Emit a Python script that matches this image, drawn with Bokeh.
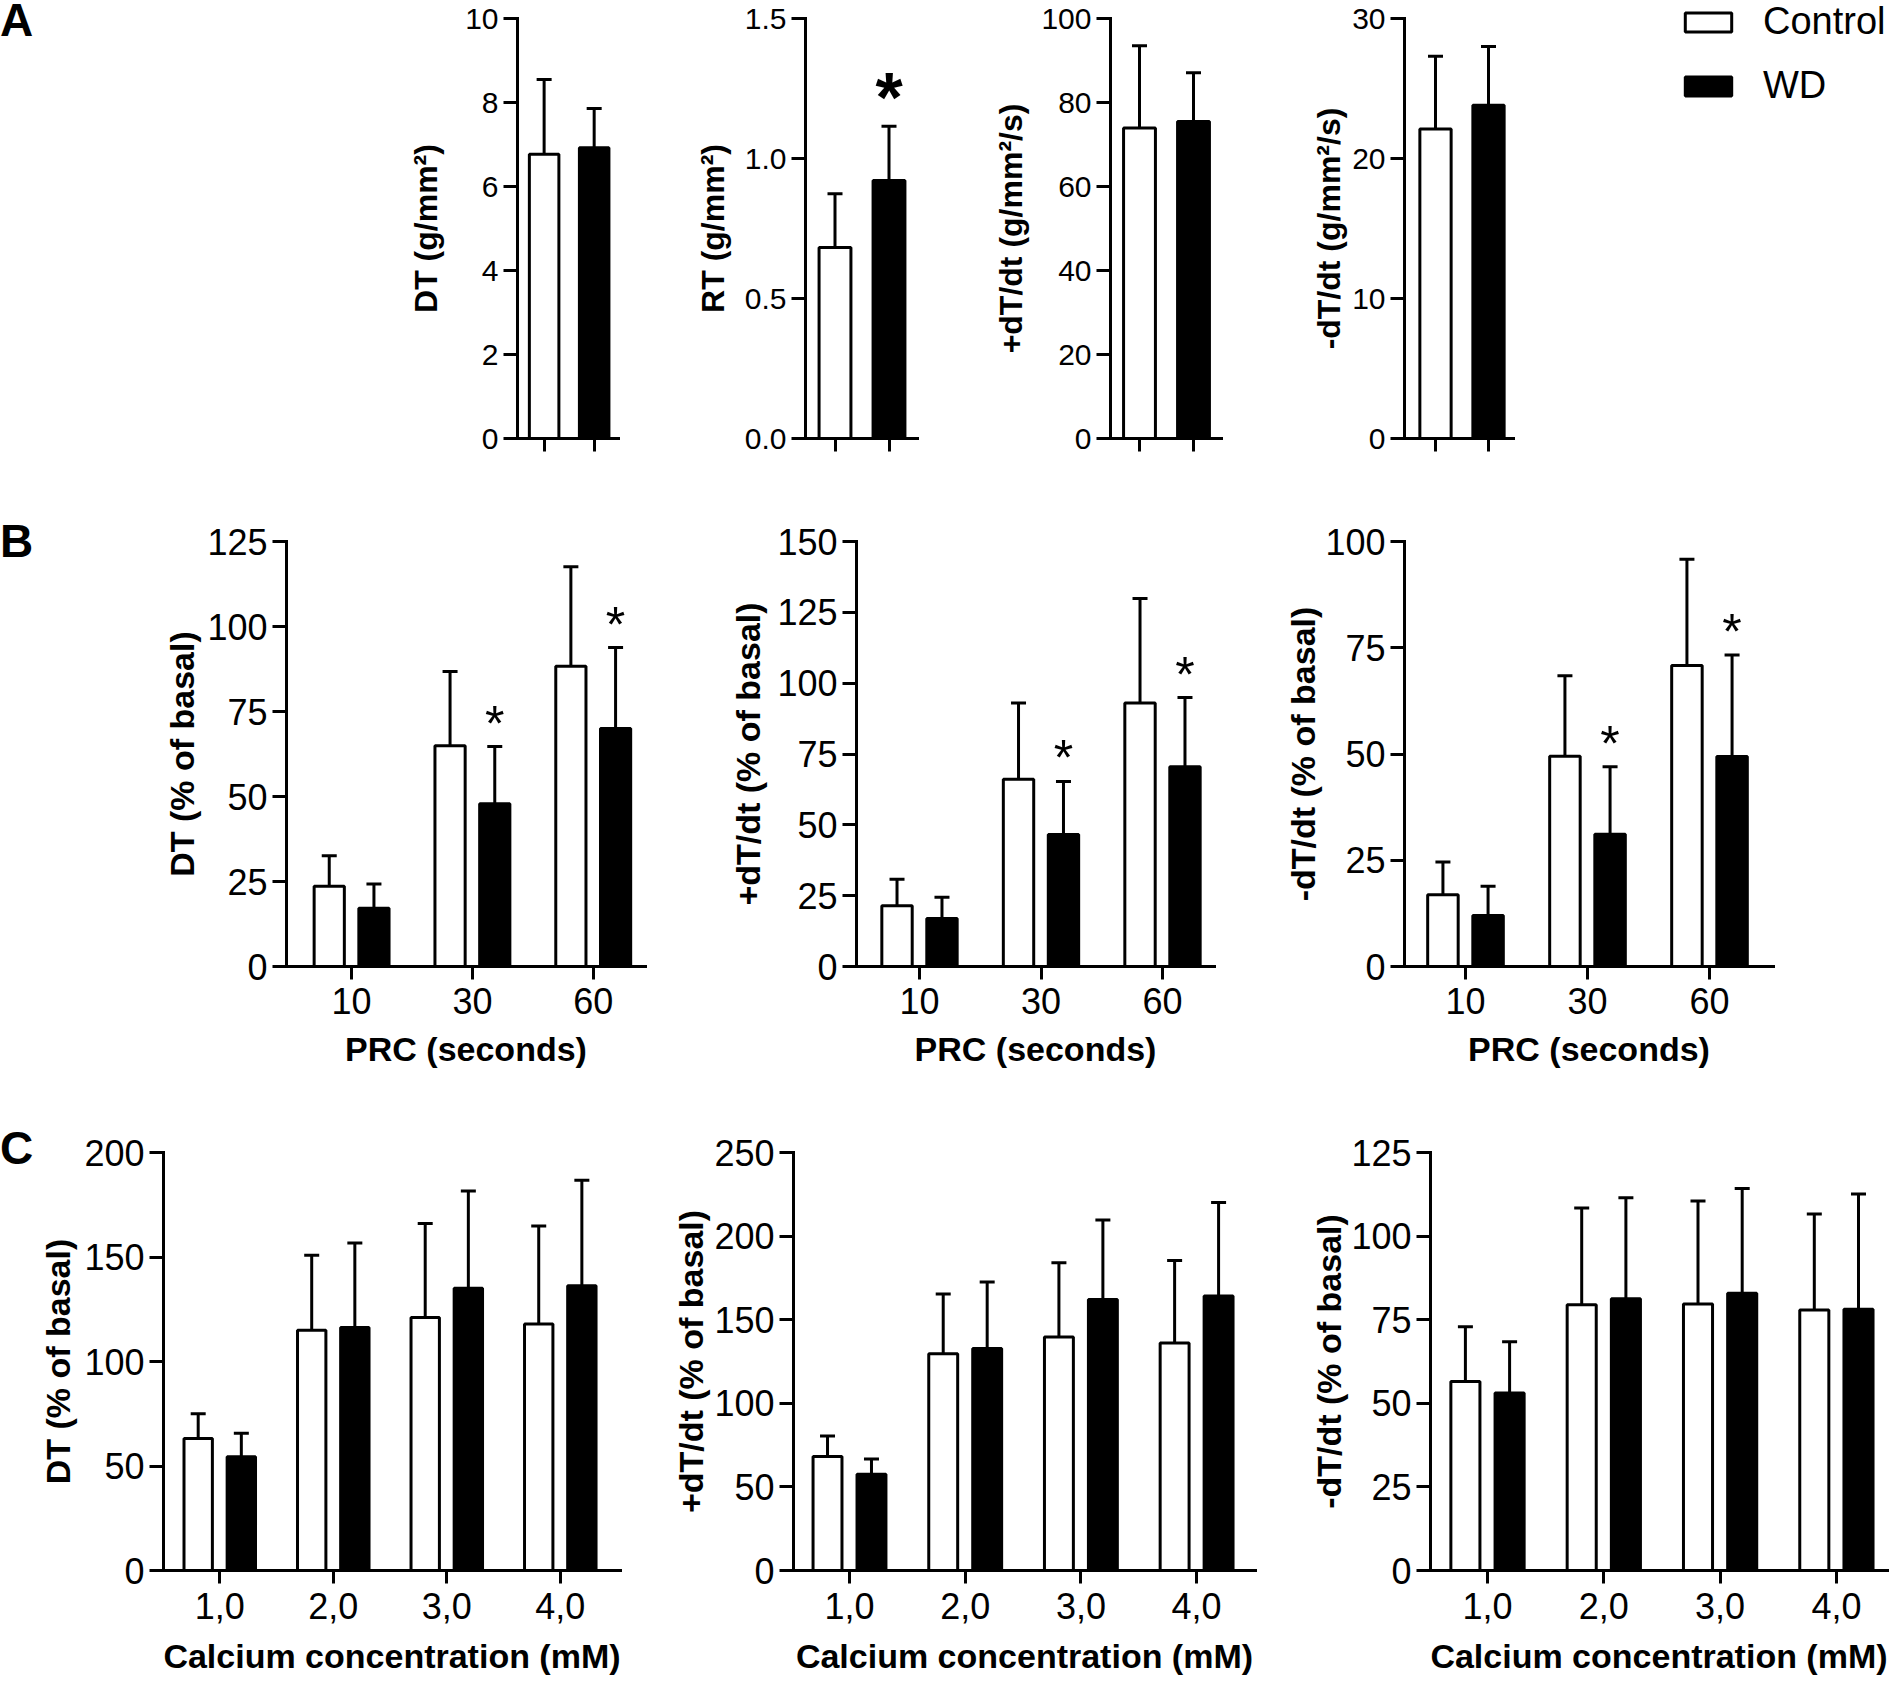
from bokeh.plotting import figure
from bokeh.models import (Range1d, FixedTicker, Whisker, TeeHead, ColumnDataSource,
                          Legend, LegendItem, PrintfTickFormatter, Div)
from bokeh.layouts import row, column
from bokeh.core.properties import value
from bokeh.embed import file_html
from bokeh.resources import INLINE

FONT = "Liberation Sans"
NARROW = "Liberation Sans Narrow, Liberation Sans"

# ---------------- data ----------------
series_names = ["Control", "WD"]
panel_letters = ["A", "B", "C"]

# Panel A: basal mechanics (bar = mean, upper = top of SD bar)
a_ylabels = ["DT (g/mm²)", "RT (g/mm²)", "+dT/dt (g/mm²/s)", "-dT/dt (g/mm²/s)"]
a_ctrl = [6.77, 0.682, 73.9, 22.1]
a_ctrl_upper = [8.55, 0.874, 93.5, 27.3]
a_wd = [6.92, 0.921, 75.5, 23.8]
a_wd_upper = [7.86, 1.115, 87.1, 28.0]
a_ymax = [10, 1.5, 100, 30]
a_ystep = [2, 0.5, 20, 10]
a_wd_sig = [False, True, False, False]

# Panel B: post-rest contraction
prc_labels = ["10", "30", "60"]
b_xlabel = "PRC (seconds)"
b_ylabels = ["DT (% of basal)", "+dT/dt (% of basal)", "-dT/dt (% of basal)"]
b1_ctrl = [23.6, 64.9, 88.3]
b1_ctrl_upper = [32.6, 86.8, 117.6]
b1_wd = [17.1, 47.9, 70.0]
b1_wd_upper = [24.3, 64.7, 93.8]
b2_ctrl = [21.4, 66.1, 93.0]
b2_ctrl_upper = [30.8, 93.0, 129.9]
b2_wd = [16.9, 46.6, 70.5]
b2_wd_upper = [24.4, 65.3, 94.9]
b3_ctrl = [16.9, 49.5, 70.8]
b3_ctrl_upper = [24.6, 68.4, 95.8]
b3_wd = [12.0, 31.1, 49.4]
b3_wd_upper = [18.9, 47.0, 73.3]
b_wd_sig = [False, True, True]
b_ymax = [125, 150, 100]

# Panel C: extracellular calcium
ca_labels = ["1,0", "2,0", "3,0", "4,0"]
c_xlabel = "Calcium concentration (mM)"
c_ylabels = ["DT (% of basal)", "+dT/dt (% of basal)", "-dT/dt (% of basal)"]
c1_ctrl = [63.2, 114.9, 121.0, 117.9]
c1_ctrl_upper = [75.0, 150.8, 166.0, 164.8]
c1_wd = [54.4, 116.3, 135.0, 136.3]
c1_wd_upper = [65.7, 156.7, 181.6, 186.7]
c2_ctrl = [68.2, 129.7, 139.6, 136.0]
c2_ctrl_upper = [80.5, 165.3, 184.1, 185.4]
c2_wd = [57.6, 132.8, 162.1, 164.2]
c2_wd_upper = [66.7, 172.5, 209.7, 220.1]
c3_ctrl = [56.5, 79.5, 79.7, 77.9]
c3_ctrl_upper = [72.9, 108.4, 110.5, 106.6]
c3_wd = [53.1, 81.3, 82.9, 78.1]
c3_wd_upper = [68.4, 111.5, 114.2, 112.6]
c_wd_sig = [False, False, False, False]
c_ymax = [200, 250, 125]
c_ystep = [50, 50, 25]

# ---------------- layout (pixels) ----------------
ROW_A = (0, 480)
ROW_B = (480, 1110)
ROW_C = (1110, 1682)
# fig_x0, fig_x1, frame_left, frame_right, first_tick_px, px_per_unit
A_GEOM = [(405, 660, 508, 618, 537, 54.5), (660, 960, 805, 917, 834.5, 54.0),
          (960, 1260, 1110, 1221, 1139, 54.0), (1260, 1679, 1404, 1513, 1435, 53.0)]
A_FRAME_Y = (18, 438)
B_GEOM = [(160, 690, 281, 645, 347, 122.5), (690, 1250, 856, 1214, 919, 121.5),
          (1250, 1898, 1404, 1773, 1465, 122.0)]
B_FRAME_Y = (541, 966)
C_GEOM = [(36, 650, 157, 620, 214, 115.0), (650, 1290, 793, 1255, 849, 115.7),
          (1290, 1898, 1430, 1887, 1487, 116.3)]
C_FRAME_Y = (1152, 1570)


def style_axis(ax, tick_font, tick_size, label_size, label_standoff, tick_out, label_gap):
    ax.axis_line_width = 3
    ax.axis_line_color = "black"
    ax.axis_line_cap = "square"
    ax.major_tick_line_width = 3
    ax.major_tick_line_color = "black"
    ax.major_tick_out = tick_out
    ax.major_tick_in = 0
    ax.minor_tick_line_color = None
    ax.major_label_text_font = tick_font
    ax.major_label_text_font_size = tick_size
    ax.major_label_text_color = "black"
    ax.major_label_standoff = label_gap
    ax.axis_label_text_font = FONT
    ax.axis_label_text_font_style = "bold"
    ax.axis_label_text_font_size = label_size
    ax.axis_label_text_color = "black"
    ax.axis_label_standoff = label_standoff


def make_panel(geom, rowy, framey, ymax, ystep, ylabel, ctrl_x, ctrl, ctrl_up, wd_x, wd, wd_up,
               sig, ticks, tick_labels, xlabel, barw, tick_font, tick_size, ylab_size,
               ylab_standoff, xlab_standoff, xtick_gap, xtick_out, star_size, star_style,
               star_gap, yfmt=None):
    fx0, fx1, fl, fr, t1, sp = geom
    ry0, ry1 = rowy
    ft, fb = framey
    xs = 1 - (t1 - fl) / sp
    xe = xs + (fr - fl) / sp
    p = figure(width=fx1 - fx0, height=ry1 - ry0, output_backend="svg", toolbar_location=None,
               tools="", title=None, min_border_left=fl - fx0, min_border_right=fx1 - fr,
               min_border_top=ft - ry0, min_border_bottom=ry1 - fb,
               x_range=Range1d(xs, xe), y_range=Range1d(0, ymax))
    p.xgrid.visible = False
    p.ygrid.visible = False
    p.outline_line_color = None
    p.background_fill_color = "white"
    p.border_fill_color = "white"

    src_c = ColumnDataSource(dict(x=ctrl_x, top=ctrl, up=ctrl_up))
    src_w = ColumnDataSource(dict(x=wd_x, top=wd, up=wd_up))
    for src, fill in ((src_c, "white"), (src_w, "black")):
        p.add_layout(Whisker(source=src, base="x", lower="top", upper="up",
                             line_width=3, line_color="black",
                             upper_head=TeeHead(size=15, line_width=3, line_color="black"),
                             lower_head=None, level="glyph"))
        p.vbar(x="x", top="top", bottom=0, width=barw, source=src, fill_color=fill,
               line_color="black", line_width=3)

    sx = [x for x, s in zip(wd_x, sig) if s]
    sy = [u for u, s in zip(wd_up, sig) if s]
    if sx:
        p.text(x=sx, y=sy, text=["*"] * len(sx), text_font=value(FONT),
               text_font_size=f"{star_size}px", text_font_style=star_style,
               text_align="center", text_baseline="alphabetic",
               y_offset=-star_gap + 0.14 * star_size, text_color="black")

    p.yaxis.ticker = FixedTicker(ticks=[i * ystep for i in range(int(round(ymax / ystep)) + 1)])
    if yfmt:
        p.yaxis.formatter = PrintfTickFormatter(format=yfmt)
    p.xaxis.ticker = FixedTicker(ticks=ticks)
    p.xaxis.major_label_overrides = {t: lab for t, lab in zip(ticks, tick_labels)}
    p.yaxis.axis_label = ylabel
    if xlabel:
        p.xaxis.axis_label = xlabel
    style_axis(p.yaxis[0], tick_font, tick_size, ylab_size, ylab_standoff, 14, 5)
    style_axis(p.xaxis[0], tick_font, tick_size, "34px", xlab_standoff, xtick_out, xtick_gap)
    return p


def letter_div(txt, x0, x1, rowy, right_px, base_py):
    # bold 46px with line-height 0.9 -> baseline sits ~36.6px below the box top;
    # right-aligned so the glyph stays inside the Div
    top = max(0, round(base_py - rowy[0] - 36.6))
    right = max(0, x1 - right_px)
    html = (f'<div style="margin:{top}px {right}px 0 0; text-align:right; white-space:nowrap;'
            f' font-family:\'{FONT}\'; font-weight:bold; font-size:46px; line-height:0.9;'
            f' color:black;">{txt}</div>')
    return Div(text=html, width=x1 - x0, height=rowy[1] - rowy[0], margin=(0, 0, 0, 0))


# ---------------- Row A ----------------
a_standoffs = [18, 11, 9, 2]
panels_a = [letter_div(panel_letters[0], 0, A_GEOM[0][0], ROW_A, 404, 34)]
for i in range(4):
    p = make_panel(A_GEOM[i], ROW_A, A_FRAME_Y, a_ymax[i], a_ystep[i], a_ylabels[i],
                   [1], [a_ctrl[i]], [a_ctrl_upper[i]], [2], [a_wd[i]], [a_wd_upper[i]],
                   [a_wd_sig[i]], [1, 2], ["", ""], None, 0.59, NARROW, "30px", "32px",
                   a_standoffs[i], 5, 5, 13, 70, "bold", 38,
                   yfmt="%.1f" if i == 1 else None)
    panels_a.append(p)

# legend (its own blank canvas to the right of panel A)
LEG_X0 = 1679
leg_w = 1898 - LEG_X0
leg_h = ROW_A[1] - ROW_A[0]
leg = figure(width=leg_w, height=leg_h, output_backend="svg", toolbar_location=None, tools="",
             title=None, x_axis_type=None, y_axis_type=None, min_border=0,
             x_range=Range1d(0, leg_w), y_range=Range1d(0, leg_h))
leg.outline_line_color = None
# zero-size key glyphs parked in the bottom-right corner; only their legend swatches show
dummy = ColumnDataSource(dict(x=[leg_w], b=[0], t=[0]))
r_c = leg.vbar(x="x", bottom="b", top="t", width=0, source=dummy,
               fill_color="white", line_color="black", line_width=3)
r_w = leg.vbar(x="x", bottom="b", top="t", width=0, source=dummy,
               fill_color="black", line_color="black", line_width=3)
legend = Legend(items=[LegendItem(label=series_names[0], renderers=[r_c]),
                       LegendItem(label=series_names[1], renderers=[r_w])],
                location="top_left", glyph_width=58, glyph_height=24, label_standoff=26,
                label_text_font=FONT, label_text_font_size="38px", label_text_color="black",
                label_text_baseline="alphabetic",
                spacing=21, padding=3, margin=0, border_line_color=None,
                background_fill_alpha=0)
leg.add_layout(legend)

# ---------------- Row B ----------------
b_data = [(b1_ctrl, b1_ctrl_upper, b1_wd, b1_wd_upper),
          (b2_ctrl, b2_ctrl_upper, b2_wd, b2_wd_upper),
          (b3_ctrl, b3_ctrl_upper, b3_wd, b3_wd_upper)]
b_standoffs = [3, 7, 0]
panels_b = [letter_div(panel_letters[1], 0, B_GEOM[0][0], ROW_B, 159, 558)]
for i in range(3):
    c, cu, w, wu = b_data[i]
    n = len(c)
    p = make_panel(B_GEOM[i], ROW_B, B_FRAME_Y, b_ymax[i], 25, b_ylabels[i],
                   [k + 1 - 0.185 for k in range(n)], c, cu,
                   [k + 1 + 0.185 for k in range(n)], w, wu,
                   b_wd_sig, [k + 1 for k in range(n)], prc_labels, b_xlabel, 0.25,
                   FONT, "36px", "34px", b_standoffs[i], 13, 8, 13, 50, "normal", 30)
    panels_b.append(p)

# ---------------- Row C ----------------
c_data = [(c1_ctrl, c1_ctrl_upper, c1_wd, c1_wd_upper),
          (c2_ctrl, c2_ctrl_upper, c2_wd, c2_wd_upper),
          (c3_ctrl, c3_ctrl_upper, c3_wd, c3_wd_upper)]
c_standoffs = [4, 1, 0]
panels_c = [letter_div(panel_letters[2], 0, C_GEOM[0][0], ROW_C, 36, 1165)]
for i in range(3):
    c, cu, w, wu = c_data[i]
    n = len(c)
    p = make_panel(C_GEOM[i], ROW_C, C_FRAME_Y, c_ymax[i], c_ystep[i], c_ylabels[i],
                   [k + 1 - 0.19 for k in range(n)], c, cu,
                   [k + 1 + 0.19 for k in range(n)], w, wu,
                   c_wd_sig, [k + 1 for k in range(n)], ca_labels, c_xlabel, 0.25,
                   FONT, "36px", "34px", c_standoffs[i], 15, 9, 13, 44, "normal", 30)
    panels_c.append(p)

layout = column(row(row(panels_a, spacing=0), column(leg), spacing=0),
                row(panels_b, spacing=0), row(panels_c, spacing=0), spacing=0)
open("out.html", "w").write(file_html(layout, INLINE))
